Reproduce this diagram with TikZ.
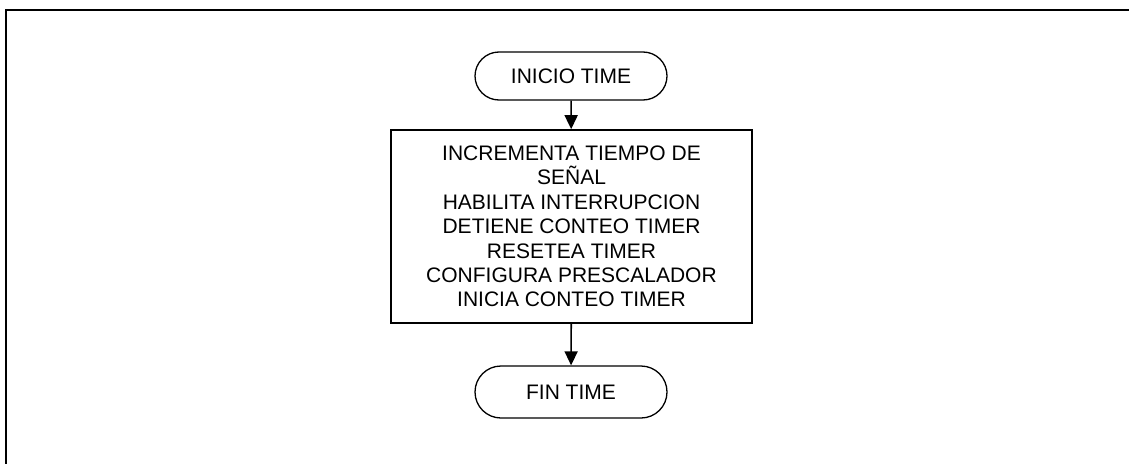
\documentclass[tikz,border=0pt]{standalone}
\usepackage{fontspec}
\setmainfont{Liberation Sans}
\usetikzlibrary{arrows.meta,shapes.misc}
\begin{document}
\begin{tikzpicture}[x=1pt,y=-1pt,
 txt/.style={font=\fontsize{21}{24.4}\selectfont},
 term/.style={draw,line width=1.3pt,rounded rectangle,minimum width=192pt,minimum height=48pt,inner sep=0pt,txt},
 proc/.style={draw,line width=1.6pt,minimum width=361pt,minimum height=193pt,align=center,inner sep=0pt,txt},
 arr/.style={line width=1.6pt,-{Triangle[length=14pt,width=13pt]}},
 frame/.style={line width=1.8pt}]
\useasboundingbox (0,0) rectangle (1129,463);
\coordinate (fb) at (6,480);
\coordinate (fc) at (6,10);
\coordinate (fr) at (1150,10);
\draw[frame] (fb) -- (fc) -- (fr);
\node[term] (a) at (571,76) {INICIO TIME};
\node[proc] (b) at (571.5,226.5) {INCREMENTA TIEMPO DE\\SEÑAL\\HABILITA INTERRUPCION\\DETIENE CONTEO TIMER\\RESETEA TIMER\\CONFIGURA PRESCALADOR\\INICIA CONTEO TIMER};
\node[term,minimum height=52pt] (c) at (571,392) {FIN TIME};
\draw[arr] (a) -- (b);
\draw[arr] (b) -- (c);
\end{tikzpicture}
\end{document}
